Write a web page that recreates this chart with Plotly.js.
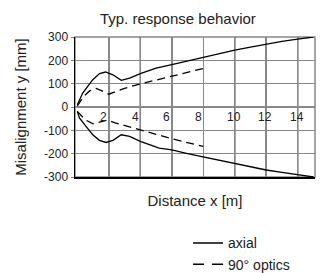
<!DOCTYPE html>
<html>
<head>
<meta charset="utf-8">
<script src="https://cdn.plot.ly/plotly-3.0.1.min.js"></script>
<style>html,body{margin:0;padding:0;background:#fff;}#chart{width:324px;height:273px;}</style>
</head>
<body>
<div id="chart"></div>
<script>
// ---- data ----
const axialX     = [0, 0.34, 0.98, 1.41, 1.79, 2.26, 2.79, 3.32, 4.0, 5.0, 6, 7, 8, 9, 10, 11, 12, 13, 14, 15];
const axialUpper = [10, 60, 117, 143, 150, 138, 114, 124, 143, 167, 182, 198, 214, 229, 244, 257, 270, 281, 291, 300];
const axialLowerX = [0, 0.13, 0.55, 0.98, 1.4, 1.83, 2.26, 2.79, 3.32, 4.0, 5.2, 6, 7, 8, 9, 10, 11, 12, 13, 14, 15];
const axialLower = [-19, -47, -83, -119, -143, -152, -143, -119, -126, -147, -176, -184, -200, -214, -226, -242, -256, -270, -280, -290, -300];

const opticsUpperX = [0, 0.4, 0.8, 1.2, 1.6, 2.0, 2.5, 3.0, 4, 5, 6, 7, 8];
const opticsUpper  = [5, 45, 70, 80, 68, 55, 68, 80, 99, 115, 130, 147, 165];
const opticsLowerX = [0, 0.5, 1.0, 1.4, 1.9, 2.4, 3.0, 4, 5, 6, 7, 8];
const opticsLower  = [-19, -55, -72, -66, -56, -68, -80, -100, -117, -136, -152, -169];

const seriesNames = ['axial', '90° optics'];
const xTickVals = [2, 4, 6, 8, 10, 12, 14];
const xTickText = ['2', '4', '6', '8', '10', '12', '14'];
const xDarkGrid = [4, 6, 10, 14];
const yTickVals = [-300, -200, -100, 0, 100, 200, 300];
const yTickText = ['-300', '-200', '-100', '0', '100', '200', '300'];

// ---- chart ----
const FONT = 'Liberation Sans, Arial, sans-serif';
const solid = {color: '#000', width: 1.3};
const dashed = {color: '#000', width: 1.3, dash: '8px,5px'};

const traces = [
  {x: axialX, y: axialUpper, mode: 'lines', line: solid, showlegend: false, hoverinfo: 'skip'},
  {x: axialLowerX, y: axialLower, mode: 'lines', line: solid, showlegend: false, hoverinfo: 'skip'},
  {x: opticsUpperX, y: opticsUpper, mode: 'lines', line: dashed, showlegend: false, hoverinfo: 'skip'},
  {x: opticsLowerX, y: opticsLower, mode: 'lines', line: dashed, showlegend: false, hoverinfo: 'skip'},
  // legend entries
  {x: [null], y: [null], mode: 'lines', name: seriesNames[0], line: {color: '#000', width: 1.6}},
  {x: [null], y: [null], mode: 'lines', name: seriesNames[1], line: {color: '#000', width: 1.6, dash: '11px,8px'}}
];

const shapes = [
  {type: 'rect', xref: 'paper', yref: 'paper', x0: 0, x1: 1, y0: 0, y1: 1,
   line: {color: '#888', width: 1.5}, layer: 'below'}
].concat(xDarkGrid.map(v => ({
  type: 'line', xref: 'x', yref: 'paper', x0: v, x1: v, y0: 0, y1: 1,
  line: {color: '#000', width: 1.2}, layer: 'below'
})));

const annotations = xTickVals.map((v, i) => ({
  x: v, y: 0, xref: 'x', yref: 'y', text: xTickText[i], showarrow: false,
  xanchor: 'center', yanchor: 'top', xshift: xTickText[i].length === 1 ? -5 : -1, yshift: -1,
  font: {family: FONT, size: 12, color: '#222'}
}));

const layout = {
  width: 324, height: 273,
  margin: {l: 75, r: 9, t: 37, b: 96, pad: 0, autoexpand: false},
  paper_bgcolor: '#fff', plot_bgcolor: '#fff',
  font: {family: FONT, size: 12, color: '#222'},
  title: {text: 'Typ. response behavior', x: 0.549, xref: 'container', xanchor: 'center',
          y: 0.93, yref: 'container', yanchor: 'middle', font: {family: FONT, size: 15, color: '#222'}},
  xaxis: {
    range: [-0.15, 15.1], tickvals: xTickVals, showticklabels: false, ticks: '',
    showgrid: true, gridcolor: '#888', gridwidth: 1.5, zeroline: false,
    showline: true, linecolor: '#000', linewidth: 1.5,
    title: {text: 'Distance x [m]', standoff: 18, font: {family: FONT, size: 15, color: '#222'}},
    automargin: false,
    fixedrange: true
  },
  yaxis: {
    range: [-300, 300], tickvals: yTickVals, ticktext: yTickText,
    ticks: 'outside', ticklen: 3, tickcolor: '#888', tickwidth: 1,
    tickfont: {family: FONT, size: 12, color: '#222'},
    showgrid: true, gridcolor: '#888', gridwidth: 1.5,
    zeroline: true, zerolinecolor: '#888', zerolinewidth: 1.5,
    showline: true, linecolor: '#000', linewidth: 1.5,
    title: {text: 'Misalignment y [mm]', standoff: 14, font: {family: FONT, size: 15, color: '#222'}},
    automargin: false,
    fixedrange: true
  },
  showlegend: true,
  legend: {x: 0.471, xanchor: 'left', y: -0.36, yanchor: 'top', tracegroupgap: 0,
           font: {family: FONT, size: 14, color: '#222'}, bgcolor: 'rgba(0,0,0,0)'},
  shapes: shapes,
  annotations: annotations
};

Plotly.newPlot('chart', traces, layout, {staticPlot: true, displayModeBar: false});
</script>
</body>
</html>
